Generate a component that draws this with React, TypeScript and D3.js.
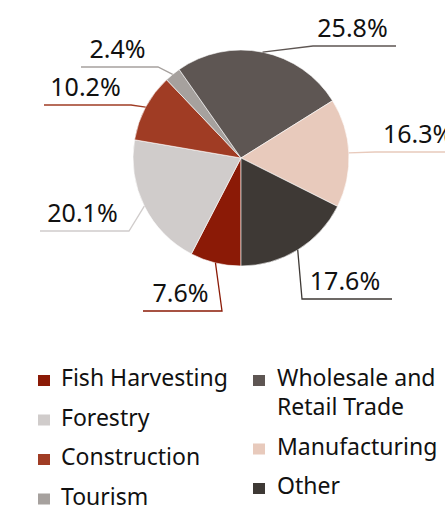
import React from "react";
import * as d3 from "d3";

const categories = [
  "Fish Harvesting",
  "Forestry",
  "Construction",
  "Tourism",
  "Wholesale and Retail Trade",
  "Manufacturing",
  "Other",
];
const values = [7.6, 20.1, 10.2, 2.4, 25.8, 16.3, 17.6];
const colors = ["#8B1A06", "#D0CCCB", "#A03C24", "#A6A19E", "#5E5653", "#E8CABC", "#3E3935"];

// legend layout: column, lines
const legendCol = [0, 0, 0, 0, 1, 1, 1];
const legendLines = [
  ["Fish Harvesting"],
  ["Forestry"],
  ["Construction"],
  ["Tourism"],
  ["Wholesale and", "Retail Trade"],
  ["Manufacturing"],
  ["Other"],
];

// label layout (elbow point and far end of horizontal leader)
const labelLayout = [
  { ex: 222, ey: 311, fx: 143 },
  { ex: 129, ey: 231, fx: 40 },
  { ex: 131, ey: 105, fx: 44 },
  { ex: 158, ey: 67, fx: 81 },
  { ex: 313, ey: 46, fx: 396 },
  { ex: 375, ey: 152, fx: 470 },
  { ex: 302, ey: 299, fx: 392 },
];

const W = 445;
const H = 505;
const cx = 241;
const cy = 158;
const R = 108;
const FONT = "'Noto Sans', sans-serif";

export default function App() {
  const pie = d3
    .pie<number>()
    .sort(null)
    .value((d) => d)
    .startAngle(Math.PI)
    .endAngle(3 * Math.PI);
  const arcs = pie(values);
  const arc = d3.arc<d3.PieArcDatum<number>>().innerRadius(0).outerRadius(R);
  const edge = d3.arc<d3.PieArcDatum<number>>().innerRadius(R).outerRadius(R);

  const rowY0 = 386;
  const rowStep = 39.5;
  const lineH = 29;

  // compute legend baselines
  const colY = [rowY0, rowY0];
  const legendItems = categories.map((c, i) => {
    const col = legendCol[i];
    const y = colY[col];
    colY[col] += (legendLines[i].length - 1) * lineH + rowStep;
    return { c, i, col, y };
  });

  return (
    <svg
      width={W}
      height={H}
      style={{ position: "absolute", left: 0, top: 0, background: "#fff" }}
      fontFamily={FONT}
    >
      <g transform={`translate(${cx},${cy})`}>
        {arcs.map((a, i) => (
          <path key={i} d={arc(a) || ""} fill={colors[i]} stroke="#fff" strokeWidth={0.6} />
        ))}
      </g>
      {arcs.map((a, i) => {
        const [sx, sy] = edge.centroid(a);
        const L = labelLayout[i];
        const textCx = (L.ex + Math.min(L.fx, W)) / 2 - (L.fx > W ? 0 : 2);
        const tx = L.fx > W ? L.ex + 8 : textCx;
        return (
          <g key={i}>
            <polyline
              points={`${cx + sx},${cy + sy} ${L.ex},${L.ey} ${L.fx},${L.ey}`}
              fill="none"
              stroke={colors[i]}
              strokeWidth={1.3}
            />
            <text
              x={tx}
              y={L.ey - 9}
              fontSize={25}
              fill="#111"
              textAnchor={L.fx > W ? "start" : "middle"}
            >
              {d3.format(".1f")(values[i]) + "%"}
            </text>
          </g>
        );
      })}
      {legendItems.map(({ i, col, y }) => {
        const sqX = col === 0 ? 38 : 253;
        const tX = col === 0 ? 61 : 277;
        return (
          <g key={i}>
            <rect x={sqX} y={y - 11} width={12} height={11} fill={colors[i]} />
            {legendLines[i].map((ln, k) => (
              <text key={k} x={tX} y={y + k * lineH} fontSize={23} fill="#111">
                {ln}
              </text>
            ))}
          </g>
        );
      })}
    </svg>
  );
}
